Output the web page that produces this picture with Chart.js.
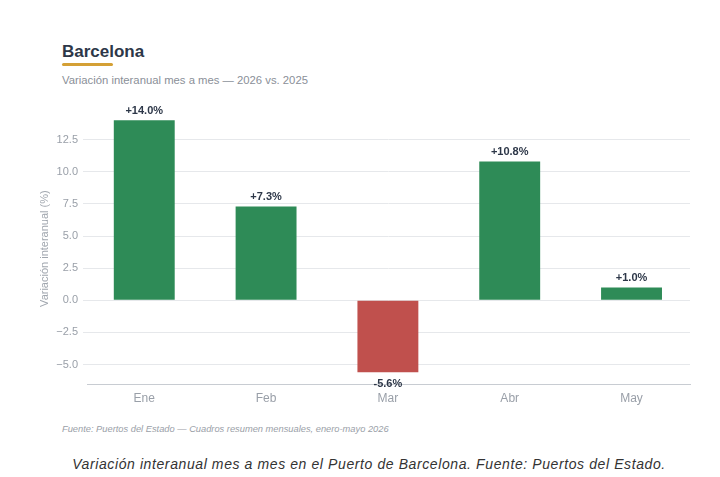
<!DOCTYPE html>
<html><head><meta charset="utf-8">
<script src="https://cdn.jsdelivr.net/npm/chart.js@4.4.1/dist/chart.umd.min.js"></script>
<style>
html,body{margin:0;padding:0;background:#fff;width:720px;height:477px;overflow:hidden;font-family:"Liberation Sans",Arial,sans-serif;}
#title{position:absolute;left:62px;top:42px;font-size:17px;font-weight:bold;color:#2d3748;}
#bar{position:absolute;left:62px;top:63px;width:51px;height:3px;background:#d4a035;border-radius:2px;}
#sub{position:absolute;left:62px;top:74px;font-size:11.3px;color:#8a8f98;}
#wrap{position:absolute;left:34px;top:101px;width:666px;height:307px;}
#foot{position:absolute;left:62px;top:424px;font-size:9.3px;font-style:italic;color:#9aa0a8;}
#cap{position:absolute;left:9px;width:720px;top:456px;text-align:center;font-size:14px;font-style:italic;color:#333;letter-spacing:0.6px;}
</style></head><body>
<div id="title">Barcelona</div><div id="bar"></div>
<div id="sub">Variación interanual mes a mes — 2026 vs. 2025</div>
<div id="wrap"><canvas id="c"></canvas></div>
<div id="foot">Fuente: Puertos del Estado — Cuadros resumen mensuales, enero-mayo 2026</div>
<div id="cap">Variación interanual mes a mes en el Puerto de Barcelona. Fuente: Puertos del Estado.</div>
<script>
const categories = ["Ene","Feb","Mar","Abr","May"];
const variation = [14.0, 7.3, -5.6, 10.8, 1.0];
const yTicks = [-5.0, -2.5, 0.0, 2.5, 5.0, 7.5, 10.0, 12.5];

const GREEN = "#2e8b57", RED = "#c0504d";
const FONT = "'Liberation Sans', Arial, sans-serif";
const labelPlugin = {
  id: "vals",
  afterDatasetsDraw(chart) {
    const ctx = chart.ctx;
    const meta = chart.getDatasetMeta(0);
    ctx.save();
    ctx.font = "bold 11px " + FONT;
    ctx.fillStyle = "#2d3748";
    ctx.textAlign = "center";
    meta.data.forEach((el, i) => {
      const v = variation[i];
      const txt = (v >= 0 ? "+" : "") + v.toFixed(1) + "%";
      if (v >= 0) { ctx.textBaseline = "bottom"; ctx.fillText(txt, el.x, el.y - 4); }
      else { ctx.textBaseline = "top"; ctx.fillText(txt, el.x, el.y + 6); }
    });
    ctx.restore();
  }
};

new Chart(document.getElementById("c"), {
  type: "bar",
  data: { datasets: [{
    data: variation.map((v, i) => ({ x: i, y: v })),
    backgroundColor: variation.map(v => v >= 0 ? GREEN : RED),
    borderWidth: 0,
    barPercentage: 0.5, categoryPercentage: 1.0
  }]},
  options: {
    responsive: true, maintainAspectRatio: false, animation: false,
    layout: { padding: { top: 0, right: 10 } },
    plugins: { legend: { display: false }, tooltip: { enabled: false } },
    scales: {
      x: {
        type: "linear", min: -0.47, max: 4.48, offset: false,
        afterBuildTicks(axis) { axis.ticks = categories.map((c, i) => ({ value: i })); },
        grid: { display: false, drawTicks: true, tickLength: 5, color: "#c8ccd2" },
        border: { display: true, color: "#c8ccd2" },
        ticks: { color: "#999fa8", font: { size: 12, family: FONT }, padding: 2,
          callback: (v) => categories[v] }
      },
      y: {
        min: -6.56, max: 14.6,
        afterFit(axis) { axis.width = 53; },
        afterBuildTicks(axis) { axis.ticks = yTicks.map(v => ({ value: v })); },
        grid: { color: "#e6e8eb", tickLength: 4, drawTicks: true },
        border: { display: false },
        ticks: { color: "#999fa8", font: { size: 11, family: FONT }, padding: 5,
          callback: v => (v < 0 ? "\u2212" + Math.abs(v).toFixed(1) : v.toFixed(1)) },
        title: { display: true, text: "Variación interanual (%)", color: "#a0a6ae",
          font: { size: 11, family: FONT }, padding: 4 }
      }
    }
  },
  plugins: [labelPlugin]
});
</script>
</body></html>
